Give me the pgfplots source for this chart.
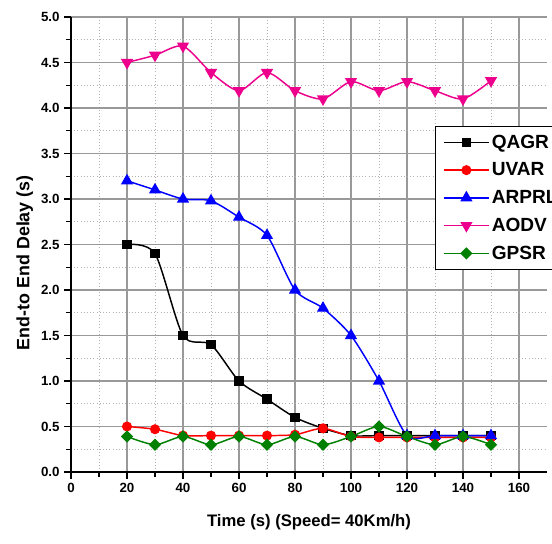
\documentclass[border=0pt]{standalone}
\usepackage{fontspec}
\setmainfont{Liberation Sans}
\usepackage{pgfplots}
\pgfplotsset{compat=1.18}
\definecolor{cgreen}{RGB}{0,128,0}
\begin{document}
\begin{tikzpicture}
\begin{axis}[name=ax,
  width=357pt, height=341.25pt, scale only axis,
  xmin=0, xmax=170, ymin=0, ymax=5,
  axis x line*=bottom, axis y line*=left,
  axis line style={line width=1.2pt,-},
  xtick={0,20,40,60,80,100,120,140,160}, minor x tick num=1,
  ytick={0,0.5,1,1.5,2,2.5,3,3.5,4,4.5,5}, minor y tick num=1,
  tick align=outside, major tick length=5pt, minor tick length=4pt,
  every tick/.style={line width=1pt,black},
  grid=both,
  major grid style={black!40, line width=0.8pt},
  minor grid style={black!30, dotted, line width=0.7pt},
  /pgf/number format/assume math mode=true,
  ticklabel style={font=\bfseries\fontsize{10}{12}\selectfont},
  yticklabel style={/pgf/number format/fixed,/pgf/number format/fixed zerofill,/pgf/number format/precision=1},
  xlabel={Time (s) (Speed= 40Km/h)},
  ylabel={End-to End Delay (s)},
  xlabel style={font=\bfseries\fontsize{12.5}{14}\selectfont, at={(axis description cs:0.5,-0.11)}, anchor=center},
  ylabel style={font=\bfseries\fontsize{13.4}{15}\selectfont, at={(axis description cs:-0.097,0.46)}, anchor=center},
  legend style={at={(axis description cs:0.765,0.760)}, anchor=north west, draw=black, line width=0.8pt, fill=white,
    font=\bfseries\fontsize{14.3}{16}\selectfont, row sep=5.4pt, inner xsep=6pt, inner ysep=4pt},
  legend cell align=left,
  legend image code/.code={\draw[#1,mark repeat=2,mark phase=2] plot coordinates {(0pt,0pt) (16.5pt,0pt) (33pt,0pt)};},
  every axis plot/.append style={line width=1.1pt, smooth, tension=0.45},
]
\addplot[black, mark=square*, mark size=3pt, mark options={solid}] coordinates {
 (20,2.5) (30,2.4) (40,1.5) (50,1.4) (60,1.0) (70,0.8) (80,0.6) (90,0.48) (100,0.4) (110,0.4) (120,0.4) (130,0.4) (140,0.4) (150,0.4)};
\addlegendentry{QAGR}
\addplot[red, mark=*, mark size=3.2pt] coordinates {
 (20,0.5) (30,0.47) (40,0.4) (50,0.4) (60,0.4) (70,0.4) (80,0.41) (90,0.48) (100,0.39) (110,0.38) (120,0.38) (130,0.38) (140,0.38) (150,0.38)};
\addlegendentry{UVAR}
\addplot[blue, mark=triangle*, mark size=4.2pt] coordinates {
 (20,3.2) (30,3.1) (40,3.0) (50,2.98) (60,2.8) (70,2.6) (80,2.0) (90,1.8) (100,1.5) (110,1.0) (120,0.4) (130,0.4) (140,0.4) (150,0.4)};
\addlegendentry{ARPRL}
\addplot[magenta, mark=triangle*, mark size=4.2pt, mark options={rotate=180}] coordinates {
 (20,4.5) (30,4.58) (40,4.68) (50,4.39) (60,4.19) (70,4.39) (80,4.19) (90,4.1) (100,4.29) (110,4.19) (120,4.29) (130,4.19) (140,4.1) (150,4.3)};
\addlegendentry{AODV}
\addplot[cgreen, mark=square*, mark size=2.7pt, mark options={rotate=45}] coordinates {
 (20,0.39) (30,0.3) (40,0.39) (50,0.3) (60,0.39) (70,0.3) (80,0.39) (90,0.3) (100,0.39) (110,0.5) (120,0.39) (130,0.3) (140,0.39) (150,0.3)};
\addlegendentry{GPSR}
\end{axis}
\pgfresetboundingbox
\useasboundingbox ([xshift=-53.25pt,yshift=-53.25pt]ax.south west) rectangle ([xshift=3.75pt,yshift=12.75pt]ax.north east);
\end{tikzpicture}
\end{document}
